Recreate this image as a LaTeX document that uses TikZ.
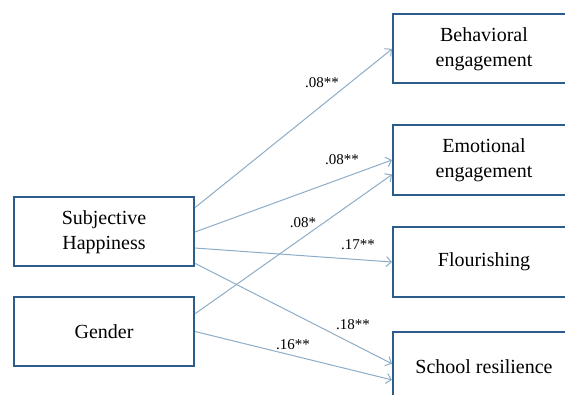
\documentclass[tikz,border=0pt]{standalone}
\usepackage{fontspec}
\setmainfont{Liberation Serif}
\usetikzlibrary{arrows.meta}
\definecolor{boxblue}{RGB}{44,92,140}
\definecolor{pathblue}{RGB}{140,172,200}
\tikzset{
	% boxes for the variables
	var/.style={draw=boxblue,line width=2pt,fill=white,rectangle,align=center,
		minimum width=180pt,minimum height=69pt,inner sep=0pt,
		font=\fontsize{20pt}{25pt}\selectfont},
	% path coefficients
	wt/.style={inner sep=0pt,font=\fontsize{15pt}{18pt}\selectfont},
	% paths
	path/.style={draw=pathblue,line width=1pt,-{Straight Barb[length=5pt,width=10pt]}},
}
\begin{document}
\begin{tikzpicture}[x=1pt,y=1pt]
\useasboundingbox (0,0) rectangle (565,395);
\clip (0,0) rectangle (565,395);
% predictors
\node[var] (sh) at (104,163) {Subjective\\Happiness};
\node[var] (gen) at (104,63.5) {Gender};
% outcomes
\node[var,minimum width=182pt] (beh) at (484,346) {Behavioral\\engagement};
\node[var,minimum width=182pt,minimum height=70pt] (emo) at (484,235) {Emotional\\engagement};
\node[var,minimum width=182pt,minimum height=70pt] (flo) at (484,133) {Flourishing};
\node[var,minimum width=182pt,minimum height=70pt] (sch) at (484,28) {School resilience};
% the paths
\draw[path] (sh.15.5) -- (beh.west);
\draw[path] (sh.east) -- (emo.west);
\draw[path] (gen.11.6) -- (emo.189.4);
\draw[path] (sh.-10.7) -- (flo.west);
\draw[path] (sh.-19) -- (sch.178.7);
\draw[path] (gen.east) -- (sch.188.1);
% coefficients
\node[wt] (w1) at (322,312) {.08**};
\node[wt] (w2) at (342,235) {.08**};
\node[wt] (w3) at (303,172) {.08*};
\node[wt] (w4) at (358,150) {.17**};
\node[wt] (w5) at (353,70) {.18**};
\node[wt] (w6) at (293,50) {.16**};
\end{tikzpicture}
\end{document}
